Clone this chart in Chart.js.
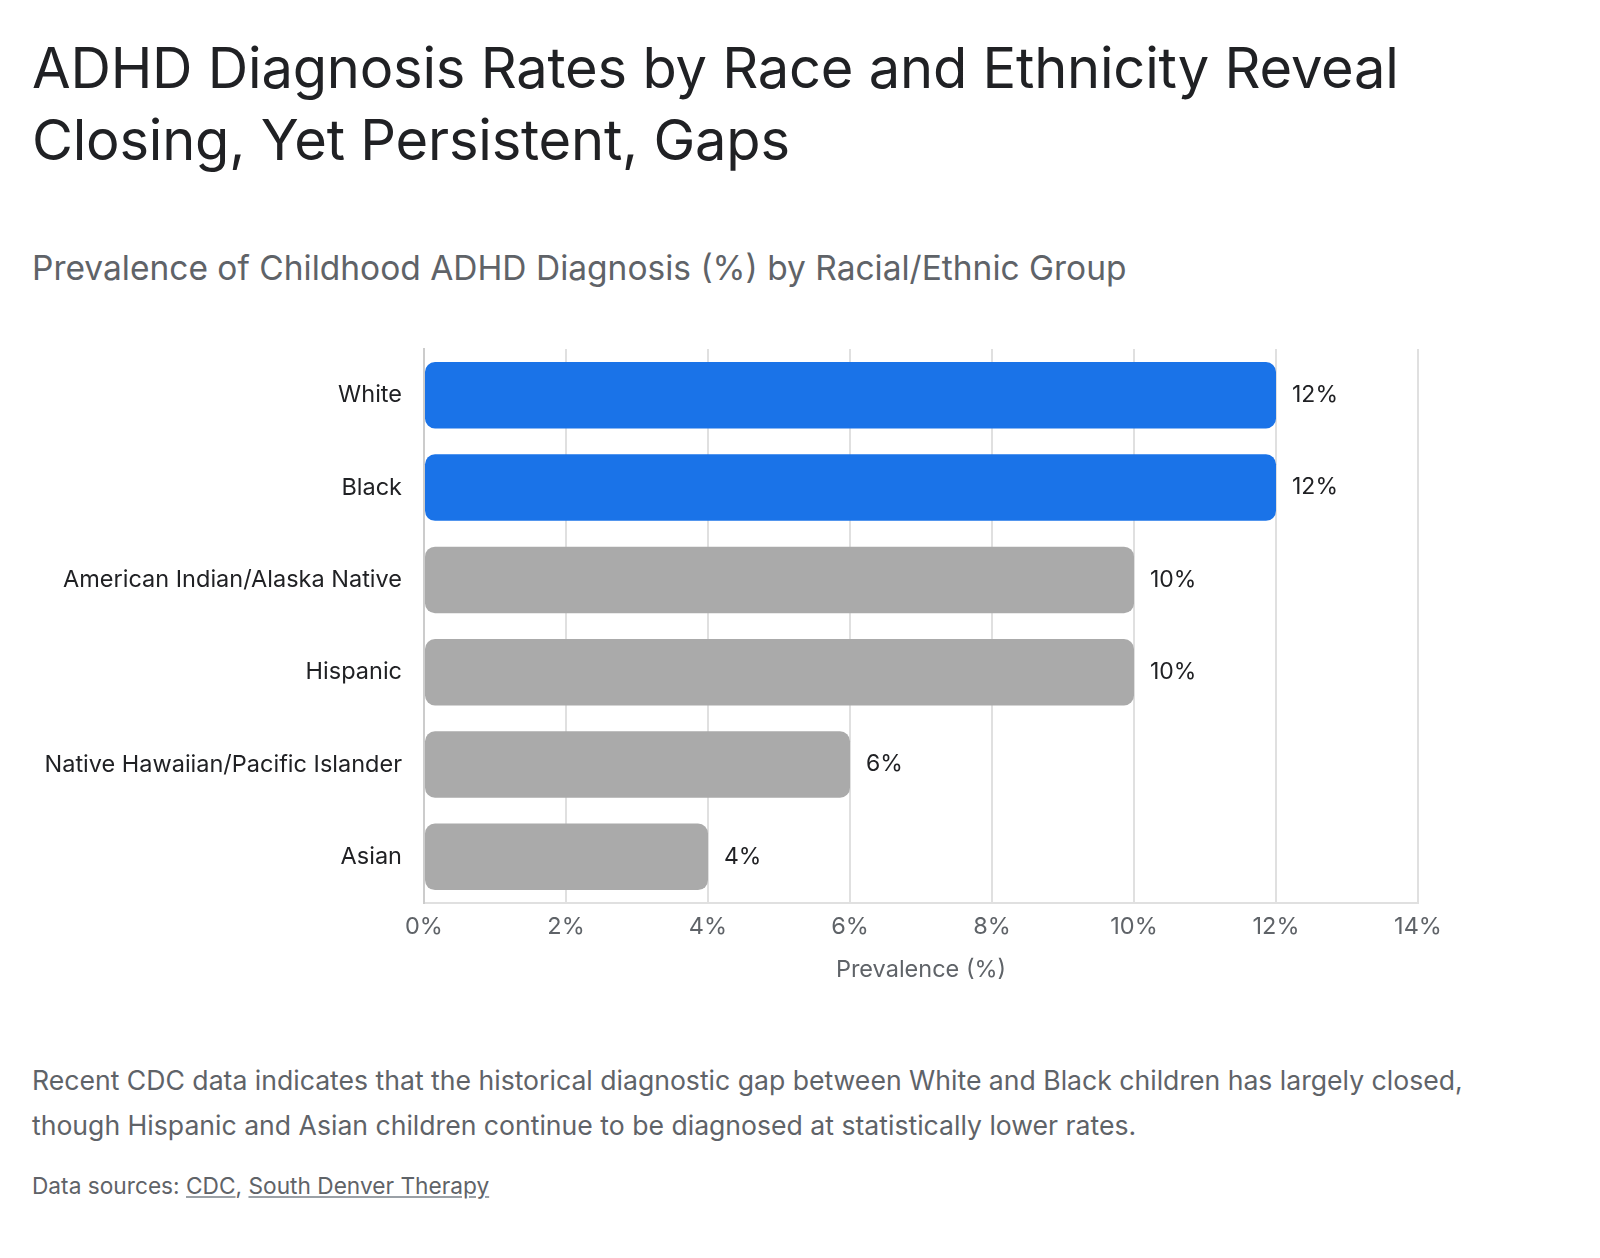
<!DOCTYPE html>
<html>
<head>
<meta charset="utf-8">
<script src="https://cdn.jsdelivr.net/npm/chart.js@4"></script>
<style>
  html, body { margin: 0; padding: 0; background: #fff; }
  body { width: 1600px; height: 1258px; position: relative; font-family: Inter, Roboto, sans-serif; }
  #title { position: absolute; left: 32px; top: 32px; width: 1440px; font-size: 56px; line-height: 72px; color: #202124; font-weight: 400; margin: 0; letter-spacing: -0.2px; }
  #subtitle { position: absolute; left: 32px; top: 248px; font-size: 33.5px; line-height: 40px; color: #5f6368; margin: 0; }
  #wrap { position: absolute; left: 0; top: 313px; width: 1600px; height: 671px; }
  #note { position: absolute; left: 32px; top: 1058px; width: 1500px; font-size: 26.6px; line-height: 45px; color: #5f6368; margin: 0; }
  #src { position: absolute; left: 32px; top: 1172px; font-size: 22.7px; line-height: 28px; color: #5f6368; margin: 0; }
  #src a { color: #5f6368; text-decoration: underline; text-decoration-color: #9aa0a6; }
</style>
</head>
<body>
<h1 id="title">ADHD Diagnosis Rates by Race and Ethnicity Reveal Closing, Yet Persistent, Gaps</h1>
<p id="subtitle">Prevalence of Childhood ADHD Diagnosis (%) by Racial/Ethnic Group</p>
<div id="wrap"><canvas id="grafico"></canvas></div>
<p id="note">Recent CDC data indicates that the historical diagnostic gap between White and Black children has largely closed,<br>though Hispanic and Asian children continue to be diagnosed at statistically lower rates.</p>
<p id="src">Data sources: <a>CDC</a>, <a>South Denver Therapy</a></p>

<script>
// Datos
const grupos = ["White", "Black", "American Indian/Alaska Native", "Hispanic", "Native Hawaiian/Pacific Islander", "Asian"];
const prevalencia = [12, 12, 10, 10, 6, 4];
const destacados = [true, true, false, false, false, false];
const ejeMax = 14;

const fuente = "Inter, Roboto, sans-serif";

// etiquetas de valor al final de cada barra
const etiquetas = {
  id: "etiquetas",
  afterDatasetsDraw(chart) {
    const ctx = chart.ctx;
    const meta = chart.getDatasetMeta(0);
    ctx.save();
    ctx.font = "23px " + fuente;
    ctx.fillStyle = "#202124";
    ctx.textAlign = "left";
    ctx.textBaseline = "middle";
    meta.data.forEach((bar, i) => {
      ctx.fillText(prevalencia[i] + "%", bar.x + 16, bar.y);
    });
    ctx.restore();
  }
};

new Chart(document.getElementById("grafico"), {
  type: "bar",
  data: {
    labels: grupos,
    datasets: [{
      data: prevalencia,
      backgroundColor: destacados.map(d => d ? "#1a73e8" : "#aaaaaa"),
      borderRadius: 10,
      borderSkipped: false,
      barPercentage: 0.72,
      categoryPercentage: 1
    }]
  },
  options: {
    indexAxis: "y",
    responsive: true,
    maintainAspectRatio: false,
    animation: false,
    layout: { padding: { top: 18, right: 182, left: 0, bottom: 0 } },
    plugins: {
      legend: { display: false },
      tooltip: { enabled: false }
    },
    scales: {
      x: {
        min: 0,
        max: ejeMax,
        ticks: {
          stepSize: 2,
          padding: 10,
          color: "#5f6368",
          font: { family: fuente, size: 23.5 },
          callback: v => v + "%"
        },
        grid: { color: "#e0e0e0", lineWidth: 2, drawTicks: false },
        border: { display: true, color: "#e0e0e0", width: 2 },
        title: {
          display: true,
          text: "Prevalence (%)",
          color: "#5f6368",
          font: { family: fuente, size: 23.5 },
          padding: { top: 0, bottom: 0 }
        },
        afterFit(scale) { scale.height = 81; }
      },
      y: {
        ticks: {
          padding: 22,
          color: "#202124",
          font: { family: fuente, size: 23.5 }
        },
        grid: { display: false, drawTicks: false },
        border: { display: true, color: "#cccccc", width: 2 },
        afterFit(scale) { scale.width = 424; }
      }
    }
  },
  plugins: [etiquetas]
});
</script>
</body>
</html>
